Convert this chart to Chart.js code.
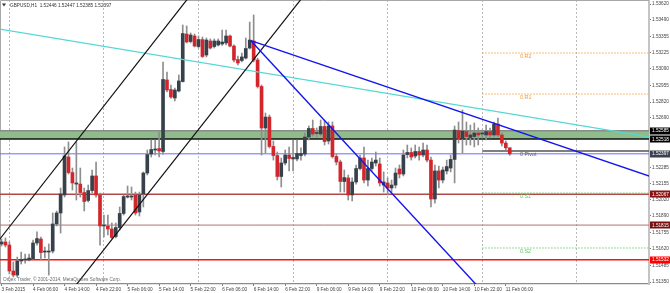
<!DOCTYPE html>
<html><head><meta charset="utf-8">
<script src="https://cdn.jsdelivr.net/npm/chart.js@4.4.1/dist/chart.umd.min.js"></script>
<style>html,body{margin:0;padding:0;background:#fff;overflow:hidden}#wrap{width:670px;height:293px;position:relative}</style>
</head><body><div id="wrap"><canvas id="c" width="670" height="293"></canvas></div>
<script>
// ---- data (GBPUSD, H1 candles, 3 Feb 22:00 -> 11 Feb 07:00) ----
const headerText = "GBPUSD,H1  1.52446 1.52447 1.52385 1.52397";
const copyrightText = "Orbex Trader, \u00a9 2001-2014, MetaQuotes Software Corp.";
const timeLabels = ["3 Feb 2015","4 Feb 06:00","4 Feb 14:00","4 Feb 22:00","5 Feb 06:00","5 Feb 14:00","5 Feb 22:00","6 Feb 06:00","6 Feb 14:00","6 Feb 22:00","9 Feb 06:00","9 Feb 14:00","9 Feb 22:00","10 Feb 06:00","10 Feb 14:00","10 Feb 22:00","11 Feb 06:00"];
const timeLabelBars = [0,8,16,24,32,40,48,56,64,72,80,88,96,104,112,120,128];
const dayStartBars = [2,26,50,74,98,122,146];
const priceTicks = [1.53620,1.53490,1.53355,1.53225,1.53090,1.52955,1.52820,1.52690,1.52285,1.52155,1.52020,1.51890,1.51755,1.51620,1.51485,1.51350];

const opens = [1.51661,1.51677,1.51652,1.51440,1.51407,1.51522,1.51530,1.51530,1.51538,1.51669,
1.51701,1.51595,1.51595,1.51603,1.51824,1.51914,1.52061,1.52371,1.52244,1.52150,
1.52150,1.52081,1.52016,1.52097,1.52216,1.52061,1.51808,1.51808,1.51783,1.51722,
1.51795,1.51910,1.52044,1.52044,1.52061,1.51922,1.52069,1.52240,1.52395,1.52428,
1.52440,1.52416,1.53000,1.52922,1.52853,1.52910,1.52987,1.53375,1.53314,1.53359,
1.53273,1.53330,1.53204,1.53318,1.53273,1.53286,1.53294,1.53302,1.53359,1.53277,
1.53167,1.53159,1.53179,1.53261,1.53318,1.53163,1.52947,1.52608,1.52697,1.52457,
1.52383,1.52212,1.52322,1.52387,1.52355,1.52355,1.52383,1.52395,1.52534,1.52604,
1.52563,1.52559,1.52620,1.52502,1.52624,1.52375,1.52330,1.52171,1.52200,1.52061,
1.52167,1.52277,1.52363,1.52183,1.52277,1.52322,1.52314,1.52142,1.52159,1.52118,
1.52142,1.52273,1.52232,1.52391,1.52408,1.52379,1.52416,1.52387,1.52428,1.52346,
1.52028,1.52257,1.52183,1.52257,1.52281,1.52351,1.52587,1.52518,1.52579,1.52530,
1.52538,1.52567,1.52559,1.52551,1.52579,1.52551,1.52640,1.52551,1.52485,1.52446];
const highs = [1.51701,1.51710,1.51677,1.51514,1.51554,1.51595,1.51579,1.51579,1.51693,1.51759,
1.51718,1.51636,1.51661,1.51914,1.51930,1.52118,1.52453,1.52494,1.52281,1.52494,
1.52281,1.52118,1.52142,1.52265,1.52330,1.52077,1.51897,1.51897,1.51832,1.51832,
1.51963,1.52061,1.52134,1.52126,1.52085,1.52085,1.52249,1.52428,1.52510,1.52510,
1.52575,1.53147,1.53065,1.52959,1.52934,1.53041,1.53449,1.53441,1.53384,1.53375,
1.53359,1.53351,1.53343,1.53335,1.53335,1.53335,1.53408,1.53408,1.53367,1.53286,
1.53196,1.53220,1.53343,1.53473,1.53531,1.53179,1.52959,1.52730,1.52714,1.52502,
1.52412,1.52363,1.52428,1.52453,1.52510,1.52510,1.52445,1.52567,1.52624,1.52673,
1.52608,1.52673,1.52665,1.52657,1.52657,1.52395,1.52346,1.52265,1.52224,1.52200,
1.52306,1.52387,1.52453,1.52346,1.52363,1.52412,1.52363,1.52249,1.52200,1.52183,
1.52281,1.52306,1.52428,1.52469,1.52445,1.52469,1.52453,1.52485,1.52469,1.52371,
1.52306,1.52297,1.52289,1.52346,1.52387,1.52624,1.52657,1.52755,1.52657,1.52632,
1.52649,1.52608,1.52591,1.52632,1.52608,1.52657,1.52689,1.52567,1.52502,1.52447];
const lows = [1.51644,1.51636,1.51416,1.51391,1.51391,1.51497,1.51505,1.51522,1.51530,1.51652,
1.51530,1.51546,1.51407,1.51587,1.51808,1.51750,1.52044,1.52232,1.52101,1.52020,
1.52044,1.51930,1.52004,1.52077,1.52044,1.51652,1.51718,1.51734,1.51705,1.51710,
1.51775,1.51897,1.52036,1.52020,1.51897,1.51889,1.51963,1.52224,1.52371,1.52387,
1.52371,1.52395,1.52902,1.52849,1.52828,1.52902,1.52983,1.53302,1.53302,1.53269,
1.53261,1.53183,1.53188,1.53253,1.53261,1.53277,1.53282,1.53286,1.53269,1.53147,
1.53122,1.53147,1.53171,1.53253,1.53147,1.52934,1.52387,1.52404,1.52445,1.52346,
1.52183,1.52126,1.52306,1.52257,1.52257,1.52338,1.52346,1.52379,1.52510,1.52542,
1.52534,1.52542,1.52469,1.52477,1.52363,1.52306,1.52085,1.52085,1.52020,1.52012,
1.52150,1.52265,1.52159,1.52134,1.52257,1.52297,1.52134,1.52085,1.52061,1.52085,
1.52118,1.52200,1.52216,1.52363,1.52346,1.52363,1.52346,1.52371,1.52330,1.51963,
1.51995,1.52118,1.52159,1.52232,1.52249,1.52159,1.52485,1.52404,1.52469,1.52469,
1.52453,1.52469,1.52526,1.52510,1.52526,1.52534,1.52534,1.52461,1.52428,1.52385];
const closes = [1.51677,1.51652,1.51440,1.51407,1.51522,1.51534,1.51538,1.51546,1.51669,1.51705,
1.51591,1.51603,1.51603,1.51824,1.51914,1.52069,1.52379,1.52244,1.52159,1.52159,
1.52081,1.52008,1.52097,1.52216,1.52061,1.51808,1.51816,1.51783,1.51714,1.51795,
1.51910,1.52048,1.52053,1.52053,1.51914,1.52061,1.52240,1.52391,1.52432,1.52436,
1.52420,1.53004,1.52918,1.52861,1.52918,1.52992,1.53379,1.53310,1.53367,1.53277,
1.53330,1.53192,1.53326,1.53261,1.53318,1.53318,1.53310,1.53359,1.53277,1.53163,
1.53139,1.53188,1.53257,1.53326,1.53163,1.52947,1.52608,1.52697,1.52457,1.52383,
1.52212,1.52322,1.52387,1.52359,1.52367,1.52400,1.52400,1.52534,1.52604,1.52559,
1.52567,1.52620,1.52497,1.52624,1.52375,1.52330,1.52171,1.52203,1.52061,1.52167,
1.52277,1.52363,1.52183,1.52277,1.52330,1.52346,1.52159,1.52167,1.52118,1.52142,
1.52240,1.52232,1.52387,1.52408,1.52371,1.52416,1.52387,1.52428,1.52346,1.52028,
1.52257,1.52183,1.52265,1.52293,1.52351,1.52591,1.52518,1.52583,1.52538,1.52551,
1.52567,1.52551,1.52567,1.52579,1.52551,1.52640,1.52551,1.52485,1.52446,1.52397];

// drawn objects (bar index, price)
const cyanTrend = [[-2,1.53423],[166,1.52527]];
const channelUpper = [[-1,1.51677],[48,1.53694]];
const channelLower = [[19,1.51329],[77,1.53699]];
const blueFanA = [[63.3,1.53321],[165,1.52208]];
const blueFanB = [[63.3,1.53321],[121,1.51311]];
const zoneTop = 1.52585, zoneBottom = 1.52518;
const bidPrice = 1.52397;
const supportLevels = [1.52067, 1.51815, 1.51532];
const pivotStartBar = 122;
const pivotNames = ["0.R2","0.R1","0 Pivot","0.S1","0.S2"];
const pivotValues = [1.53220, 1.52885, 1.52420, 1.52077, 1.51628];
const pivotLabelBar = 131.6;

// ---- chart ----
const FONT = "'Liberation Sans', Arial, sans-serif";
const FS = 4.7;
const xMin = -0.381, xMax = 164.34, yMin = 1.51334, yMax = 1.53653;
const BULL = '#36414b', BEAR = '#d3262c', WICK = '#8e8e8e';

const toPts = arr => arr.map(p => ({x: p[0], y: p[1]}));
function lineDs(pts, color, width, order, dash, extra) {
  return Object.assign({type:'line', data: pts, borderColor: color, borderWidth: width, borderDash: dash || [],
    pointRadius: 0, tension: 0, fill: false, order: order}, extra || {});
}
function hLevel(value, fromBar, color, width, order, dash, extra) {
  return lineDs([{x: fromBar, y: value}, {x: xMax + 2, y: value}], color, width, order, dash, extra);
}

const wickData = highs.map((h, i) => ({x: i, y: [lows[i], h]}));
const bodyData = opens.map((o, i) => ({x: i, y: [o, closes[i]]}));
const bodyColors = opens.map((o, i) => closes[i] >= o ? BULL : BEAR);

const pivotColors = ['#f6a94e','#f6a94e','#4a4a4a','#70d070','#70d070'];
const pivotLabelColors = ['#f29a38','#f29a38','#606060','#5cc85c','#5cc85c'];
const pivotDs = pivotValues.map((v, k) => k === 2
  ? hLevel(v, pivotStartBar, '#555555', 1.6, 24)
  : hLevel(v, pivotStartBar, pivotColors[k], 1, 24, [1.5, 1.5]));

const datasets = [
  hLevel(zoneTop, xMin - 2, '#8a8a8a', 1.6, 29),
  hLevel(zoneBottom, xMin - 2, '#111111', 1.4, 30, [], {fill: '-1', backgroundColor: '#8fbc8a'}),
  hLevel(bidPrice, xMin - 2, '#6b6bff', 1, 25),
  hLevel(supportLevels[0], xMin - 2, '#b04848', 1.3, 25),
  hLevel(supportLevels[1], xMin - 2, '#b07474', 1, 25),
  hLevel(supportLevels[2], xMin - 2, '#ff1010', 1.4, 25),
  ...pivotDs,
  {type:'bar', data: wickData, backgroundColor: WICK, barThickness: 1, grouped: false, minBarLength: 1, order: 10},
  {type:'bar', data: bodyData, backgroundColor: bodyColors, barThickness: 3, grouped: false, minBarLength: 1, order: 9},
  lineDs(toPts(cyanTrend), '#55d8d2', 1.2, 5),
  lineDs(toPts(channelUpper), '#111111', 1.2, 4),
  lineDs(toPts(channelLower), '#111111', 1.2, 4),
  lineDs(toPts(blueFanA), '#1414f0', 1.4, 3),
  lineDs(toPts(blueFanB), '#1414f0', 1.4, 3),
];

const overlay = {
  id: 'overlay',
  beforeDatasetsDraw(chart) {
    const {ctx, chartArea: a} = chart;
    ctx.save();
    ctx.strokeStyle = '#a8a8a8'; ctx.lineWidth = 1;
    ctx.beginPath(); ctx.moveTo(0.5, a.bottom); ctx.lineTo(0.5, 0.5); ctx.lineTo(a.right, 0.5); ctx.stroke();
    ctx.restore();
  },
  afterDraw(chart) {
    const {ctx, chartArea: a} = chart;
    const xs = chart.scales.x, ys = chart.scales.y;
    ctx.save();
    ctx.font = FS + 'px ' + FONT;
    ctx.textBaseline = 'middle';
    // header
    ctx.fillStyle = '#333';
    ctx.beginPath(); ctx.moveTo(2, 3.5); ctx.lineTo(6, 3.5); ctx.lineTo(4, 6.5); ctx.closePath(); ctx.fill();
    ctx.textAlign = 'left';
    ctx.fillText(headerText, 10, 5.5);
    // copyright
    ctx.fillStyle = '#6a6a6a';
    ctx.fillText(copyrightText, 3, 280);
    // pivot labels
    ctx.font = '5.4px ' + FONT;
    ctx.textBaseline = 'top';
    const lx = xs.getPixelForValue(pivotLabelBar);
    pivotValues.forEach((v, k) => {
      ctx.fillStyle = pivotLabelColors[k];
      ctx.fillText(pivotNames[k], lx, ys.getPixelForValue(v) + 1);
    });
    // right-axis price boxes
    ctx.font = FS + 'px ' + FONT;
    ctx.textBaseline = 'middle';
    const boxes = [[zoneTop, '#000000'], [zoneBottom, '#000000'], [bidPrice, '#3a434c'],
      [supportLevels[0], '#8a1414'], [supportLevels[1], '#7a1010'], [supportLevels[2], '#ff0000']];
    boxes.forEach(([v, col]) => {
      const y = ys.getPixelForValue(v);
      ctx.fillStyle = col;
      ctx.fillRect(a.right + 1, Math.round(y) - 3.5, 20, 7);
      ctx.fillStyle = '#ffffff';
      ctx.fillText(v.toFixed(5), a.right + 3, y + 0.3);
    });
    ctx.restore();
  }
};

new Chart(document.getElementById('c'), {
  type: 'bar',
  data: { datasets },
  plugins: [overlay],
  options: {
    responsive: false, animation: false, devicePixelRatio: 1, events: [],
    layout: { padding: 0 },
    plugins: { legend: { display: false }, tooltip: { enabled: false } },
    scales: {
      xg: {
        type: 'linear', position: 'bottom', min: xMin, max: xMax, offset: false,
        afterBuildTicks: s => { s.ticks = dayStartBars.map(v => ({value: v})); },
        ticks: { display: false },
        border: { display: false, dash: [2, 2] },
        grid: { display: true, drawOnChartArea: true, drawTicks: false, color: '#b8b8b8', lineWidth: 1, offset: false },
        afterFit: s => { s.height = 0; s.paddingLeft = 0; s.paddingRight = 0; }
      },
      x: {
        type: 'linear', position: 'bottom', min: xMin, max: xMax, offset: false,
        afterBuildTicks: s => { s.ticks = timeLabelBars.map(v => ({value: v})); },
        ticks: { autoSkip: false, maxRotation: 0, minRotation: 0, align: 'start', padding: 1,
          font: { family: FONT, size: FS }, color: '#444',
          callback: (v, i) => timeLabels[i] },
        grid: { display: true, drawOnChartArea: false, drawTicks: true, tickLength: 2, tickColor: '#777', offset: false },
        border: { display: true, color: '#8c8c8c', width: 1.2 },
        afterFit: s => { s.height = 9; s.paddingLeft = 0; s.paddingRight = 0; }
      },
      y: {
        type: 'linear', position: 'right', min: yMin, max: yMax,
        afterBuildTicks: s => { s.ticks = priceTicks.map(v => ({value: v})); },
        ticks: { autoSkip: false, padding: 1, font: { family: FONT, size: FS }, color: '#444',
          callback: v => Number(v).toFixed(5) },
        grid: { display: true, drawOnChartArea: false, drawTicks: true, tickLength: 2, tickColor: '#777' },
        border: { display: true, color: '#c4c4c4', width: 2 },
        afterFit: s => { s.width = 21; s.paddingTop = 0; s.paddingBottom = 0; }
      }
    }
  }
});
</script></body></html>
